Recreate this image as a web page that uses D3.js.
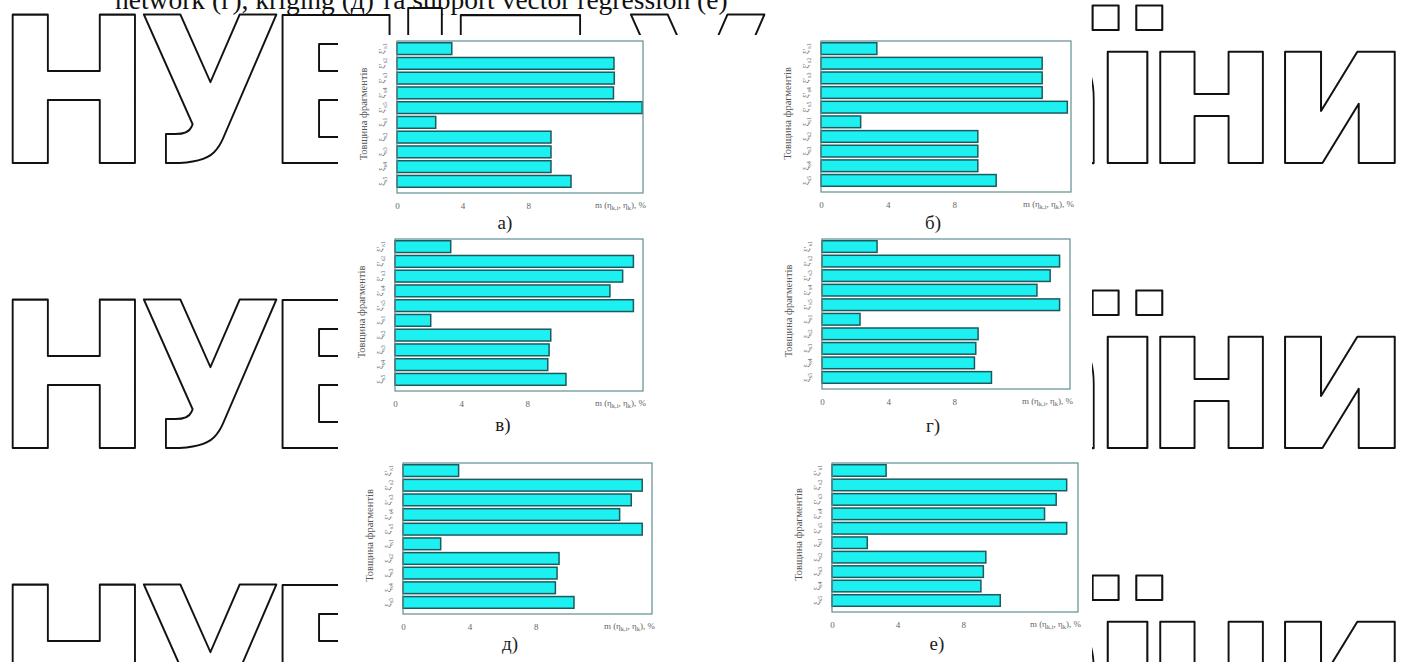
<!DOCTYPE html>
<html>
<head>
<meta charset="utf-8">
<script src="https://cdn.jsdelivr.net/npm/d3@7"></script>
<style>
  html, body { margin: 0; padding: 0; background: #fff; }
  svg { display: block; }
</style>
</head>
<body>
<svg id="page" width="1410" height="662"></svg>
<script>
// bar labels, top to bottom (symbol + subscript)
var categories = ['к1', 'к2', 'к3', 'к4', 'к5', 'к1', 'к2', 'к3', 'к4', 'к5'];
var catSymbols = ['ξ′', 'ξ′', 'ξ′', 'ξ′', 'ξ′', 'ξ', 'ξ', 'ξ', 'ξ', 'ξ'];

// m(η), % for each panel
var valuesA = [3.34, 13.23, 13.25, 13.2, 14.95, 2.36, 9.39, 9.39, 9.39, 10.61];
var valuesB = [3.35, 13.27, 13.27, 13.27, 14.78, 2.38, 9.41, 9.41, 9.41, 10.51];
var valuesV = [3.37, 14.42, 13.77, 13.0, 14.42, 2.16, 9.42, 9.32, 9.24, 10.34];
var valuesG = [3.33, 14.37, 13.8, 13.0, 14.37, 2.3, 9.44, 9.3, 9.22, 10.25];
var valuesD = [3.35, 14.41, 13.75, 13.05, 14.41, 2.27, 9.4, 9.28, 9.18, 10.3];
var valuesE = [3.3, 14.31, 13.67, 12.96, 14.31, 2.15, 9.38, 9.23, 9.08, 10.26];

var panelLabels = ['а)', 'б)', 'в)', 'г)', 'д)', 'е)'];
var xTicks = [0, 4, 8];
var xMax = 15;

var yTitle = 'Товщина фрагментів';
var topLine = 'network (г), kriging (д) та support vector regression (е)';
var watermark = ['Н', 'У', 'Б', 'і', 'П', 'У', 'к', 'р', 'а', 'ї', 'н', 'и'];

// ink extents of each watermark letter on the page
var wmBox = [[12, 135], [143, 277], [282, 400], [408, 442], [460, 580], [630, 765],
             [780, 885], [900, 990], [1000, 1094], [1092, 1163], [1160, 1263], [1285, 1395]];
var wmBase = [163, 448, 733];
var wmFont = 'bold 204px "DejaVu Sans"';

// where each small chart sits on the page
var panels = [
    {values: valuesA, left: 397, right: 643, top: 41, bottom: 193, capX: 505, capY: 229},
    {values: valuesB, left: 821, right: 1071, top: 41, bottom: 192, capX: 933, capY: 229},
    {values: valuesV, left: 395, right: 643, top: 239, bottom: 391, capX: 503, capY: 431},
    {values: valuesG, left: 822, right: 1070, top: 239, bottom: 389, capX: 933, capY: 432},
    {values: valuesD, left: 403, right: 652, top: 463, bottom: 614, capX: 510, capY: 650},
    {values: valuesE, left: 832, right: 1078, top: 463, bottom: 612, capX: 937, capY: 650}
];

var svg = d3.select('#page');

// text line cut off at the top of the scan
svg.append('text')
    .attr('x', 115)
    .attr('y', 9)
    .attr('font-family', 'Liberation Serif, serif')
    .attr('font-size', 27.5)
    .attr('fill', '#111')
    .text(topLine);

// outlined watermark, three rows, each letter fitted to its box
var ctx = document.createElement('canvas').getContext('2d');
ctx.font = wmFont;
wmBase.forEach(function(base){
    watermark.forEach(function(ch, k){
        var m = ctx.measureText(ch);
        var inkL = -m.actualBoundingBoxLeft;
        var inkW = m.actualBoundingBoxRight + m.actualBoundingBoxLeft;
        var sx = (wmBox[k][1] - wmBox[k][0]) / inkW;
        var tx = wmBox[k][0] - inkL * sx;
        svg.append('text')
            .attr('transform', 'translate(' + tx + ',' + base + ') scale(' + sx + ',1)')
            .attr('font-family', 'DejaVu Sans')
            .attr('font-weight', 700)
            .attr('font-size', 204)
            .attr('fill', '#fff')
            .attr('stroke', '#111')
            .attr('stroke-width', 2)
            .attr('stroke-linejoin', 'round')
            .attr('vector-effect', 'non-scaling-stroke')
            .text(ch);
    });
});

// the figure itself is a white picture laid over the watermark
svg.append('rect')
    .attr('x', 338).attr('y', 35)
    .attr('width', 1092 - 338).attr('height', 662 - 35)
    .attr('fill', '#fff');

panels.forEach(function(p, i){
    var g = svg.append('g');

    var x = d3.scaleLinear().domain([0, xMax]).range([p.left, p.right]);
    var y = d3.scaleBand()
        .domain(d3.range(categories.length))
        .range([p.top + 1, p.bottom - 5])
        .paddingInner(0.2)
        .paddingOuter(0.05);

    // bars
    g.selectAll('rect.bar')
        .data(p.values)
        .enter().append('rect')
        .attr('class', 'bar')
        .attr('x', x(0))
        .attr('y', function(d, j){ return y(j); })
        .attr('width', function(d){ return x(d) - x(0); })
        .attr('height', y.bandwidth())
        .attr('fill', '#1cf0f0')
        .attr('stroke', '#1d5a5e')
        .attr('stroke-width', 1.5);

    // frame
    g.append('rect')
        .attr('x', p.left).attr('y', p.top)
        .attr('width', p.right - p.left).attr('height', p.bottom - p.top)
        .attr('fill', 'none')
        .attr('stroke', '#5f8e90')
        .attr('stroke-width', 1.2);

    // x axis, the frame stands in for the domain line
    var xAxis = d3.axisBottom(x).tickValues(xTicks).tickSize(0).tickPadding(10);
    var ax = g.append('g')
        .attr('transform', 'translate(0,' + p.bottom + ')')
        .call(xAxis);
    ax.select('.domain').remove();
    ax.selectAll('text')
        .attr('font-family', 'Liberation Serif, serif')
        .attr('font-size', 9)
        .attr('fill', '#666');

    // x label
    var xl = g.append('text')
        .attr('x', p.right + 3)
        .attr('y', p.bottom + 15)
        .attr('text-anchor', 'end')
        .attr('font-family', 'Liberation Serif, serif')
        .attr('font-size', 9)
        .attr('fill', '#666');
    xl.append('tspan').text('m (η');
    xl.append('tspan').attr('font-size', 6.5).attr('dy', 2).text('k,i');
    xl.append('tspan').attr('dy', -2).text(', η');
    xl.append('tspan').attr('font-size', 6.5).attr('dy', 2).text('k');
    xl.append('tspan').attr('dy', -2).text('), %');

    // y tick labels, turned on their side
    var yl = g.selectAll('text.ylab')
        .data(categories)
        .enter().append('text')
        .attr('class', 'ylab')
        .attr('transform', function(d, j){
            return 'translate(' + (p.left - 12) + ',' + (y(j) + y.bandwidth() / 2) + ') rotate(-90)';
        })
        .attr('text-anchor', 'middle')
        .attr('font-family', 'Liberation Serif, serif')
        .attr('font-size', 8)
        .attr('fill', '#666');
    yl.append('tspan').text(function(d, j){ return catSymbols[j]; });
    yl.append('tspan').attr('font-size', 5.5).attr('dy', 2).text(function(d){ return d; });

    // y title
    g.append('text')
        .attr('transform', 'translate(' + (p.left - 30) + ',' + ((p.top + p.bottom) / 2 - 3) + ') rotate(-90)')
        .attr('text-anchor', 'middle')
        .attr('font-family', 'Liberation Serif, serif')
        .attr('font-size', 10.5)
        .attr('fill', '#555')
        .text(yTitle);

    // panel caption
    g.append('text')
        .attr('x', p.capX)
        .attr('y', p.capY)
        .attr('text-anchor', 'middle')
        .attr('font-family', 'Liberation Serif, serif')
        .attr('font-size', 19)
        .attr('fill', '#222')
        .text(panelLabels[i]);
});
</script>
</body>
</html>
